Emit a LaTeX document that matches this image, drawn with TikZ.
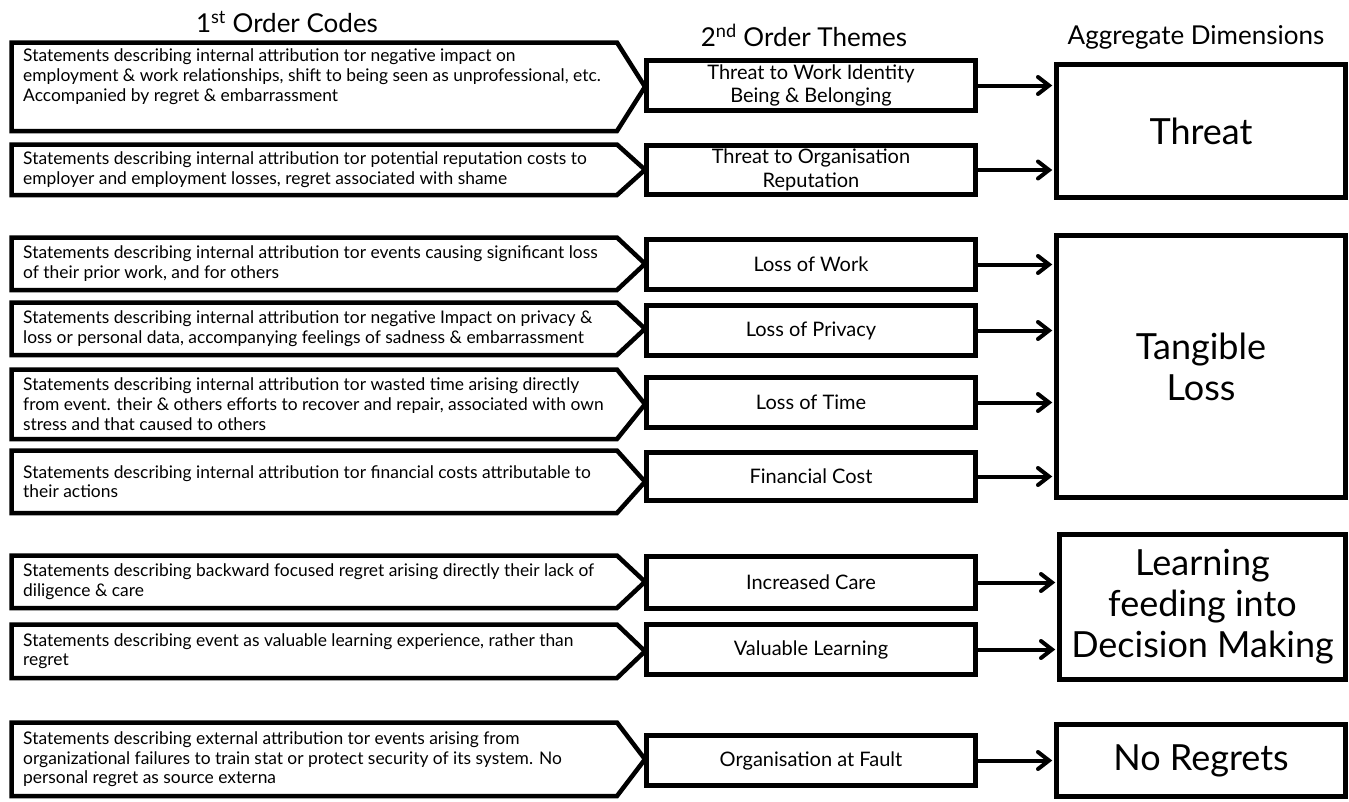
\documentclass[tikz,border=0pt]{standalone}
\usepackage{fontspec}
\setmainfont{Lato}
\usetikzlibrary{arrows.meta, positioning, calc}
\tikzset{
  head/.style={font=\fontsize{26}{30}\selectfont, text=black, inner sep=0pt},
  codetext/.style={font=\fontsize{17.4}{19.8}\selectfont, align=left, anchor=west, inner sep=0pt},
  codeline/.style={draw=black, line width=4.5pt, line join=miter},
  theme/.style={draw=black, line width=4.5pt, minimum width=329pt, inner sep=0pt, align=center,
    font=\fontsize{20}{23.5}\selectfont},
  agg/.style={draw=black, line width=4.5pt, inner sep=2pt, align=center,
    font=\fontsize{36}{41}\selectfont},
  arr/.style={-{Straight Barb[length=11pt, width=17pt, line cap=round]}, line width=4pt, shorten >=2pt},
}

\begin{document}
\begin{tikzpicture}[x=1pt, y=-1pt]
  \useasboundingbox (0,0) rectangle (1349,801);
  % ---- column headings
  \node[head] (h1) at (287,22) {1\textsuperscript{st} Order Codes};
  \node[head] (h2) at (804,35) {2\textsuperscript{nd} Order Themes};
  \node[head] (h3) at (1196,37) {Aggregate Dimensions};
  % ---- 1st order codes: pentagon arrows with their statements
  \foreach \n/\top/\bot/\dy/\txt in {
    1/42.5/131/-10/{Statements describing internal attribution tor negative impact on\\employment \& work relationships, shift to being seen as unprofessional, etc.\\Accompanied by regret \& embarrassment},
    2/144.5/195/0/{Statements describing internal attribution tor potential reputation costs to\\employer and employment losses, regret associated with shame},
    3/237.5/290/0/{Statements describing internal attribution tor events causing significant loss\\of their prior work, and for others},
    4/302.5/355/0/{Statements describing internal attribution tor negative Impact on privacy \&\\loss or personal data, accompanying feelings of sadness \& embarrassment},
    5/369.5/439/0/{Statements describing internal attribution tor wasted time arising directly\\from event. their \& others efforts to recover and repair, associated with own\\stress and that caused to others},
    6/450.5/513/0/{Statements describing internal attribution tor financial costs attributable to\\their actions},
    7/555.5/608/0/{Statements describing backward focused regret arising directly their lack of\\diligence \& care},
    8/624.5/678/0/{Statements describing event as valuable learning experience, rather than\\regret},
    9/722.5/796/0/{Statements describing external attribution tor events arising from\\organizational failures to train stat or protect security of its system. No\\personal regret as source externa}} {
    \draw[codeline] (11.5,\top) -- (617,\top) -- (645,{(\top+\bot)/2}) -- (617,\bot) -- (11.5,\bot) -- cycle;
    \node[codetext] (c\n) at (23,{(\top+\bot)/2+\dy}) {\txt};
  }
  % ---- 2nd order themes
  \node[theme, minimum height=50pt] (t1) at (811,85.5) {Threat to Work Identity\\Being \& Belonging};
  \node[theme, minimum height=49pt] (t2) at (811,170) {Threat to Organisation\\Reputation};
  \node[theme, minimum height=50pt] (t3) at (811,264.5) {Loss of Work};
  \node[theme, minimum height=50pt] (t4) at (811,330.5) {Loss of Privacy};
  \node[theme, minimum height=50pt] (t5) at (811,402.5) {Loss of Time};
  \node[theme, minimum height=48pt] (t6) at (811,476.5) {Financial Cost};
  \node[theme, minimum height=52pt] (t7) at (811,582.5) {Increased Care};
  \node[theme, minimum height=50pt] (t8) at (811,649.5) {Valuable Learning};
  \node[theme, minimum height=50pt] (t9) at (811,760.5) {Organisation at Fault};
  % ---- aggregate dimensions
  \node[agg, minimum width=289pt, minimum height=133pt] (a1) at (1201,131) {Threat};
  \node[agg, minimum width=289pt, minimum height=262pt] (a2) at (1201,366.5) {Tangible\\Loss};
  \node[agg, minimum width=286pt, minimum height=145pt] (a3) at (1202.5,607) {Learning\\feeding into\\Decision Making};
  \node[agg, minimum width=289pt, minimum height=72pt] (a4) at (1201,760.5) {No Regrets};
  % ---- themes feed the dimensions
  \foreach \t/\a in {t1/a1, t2/a1, t3/a2, t4/a2, t5/a2, t6/a2, t7/a3, t8/a3, t9/a4}
    \draw[arr] (\t.east) -- (\t.east -| \a.west);
\end{tikzpicture}
\end{document}
